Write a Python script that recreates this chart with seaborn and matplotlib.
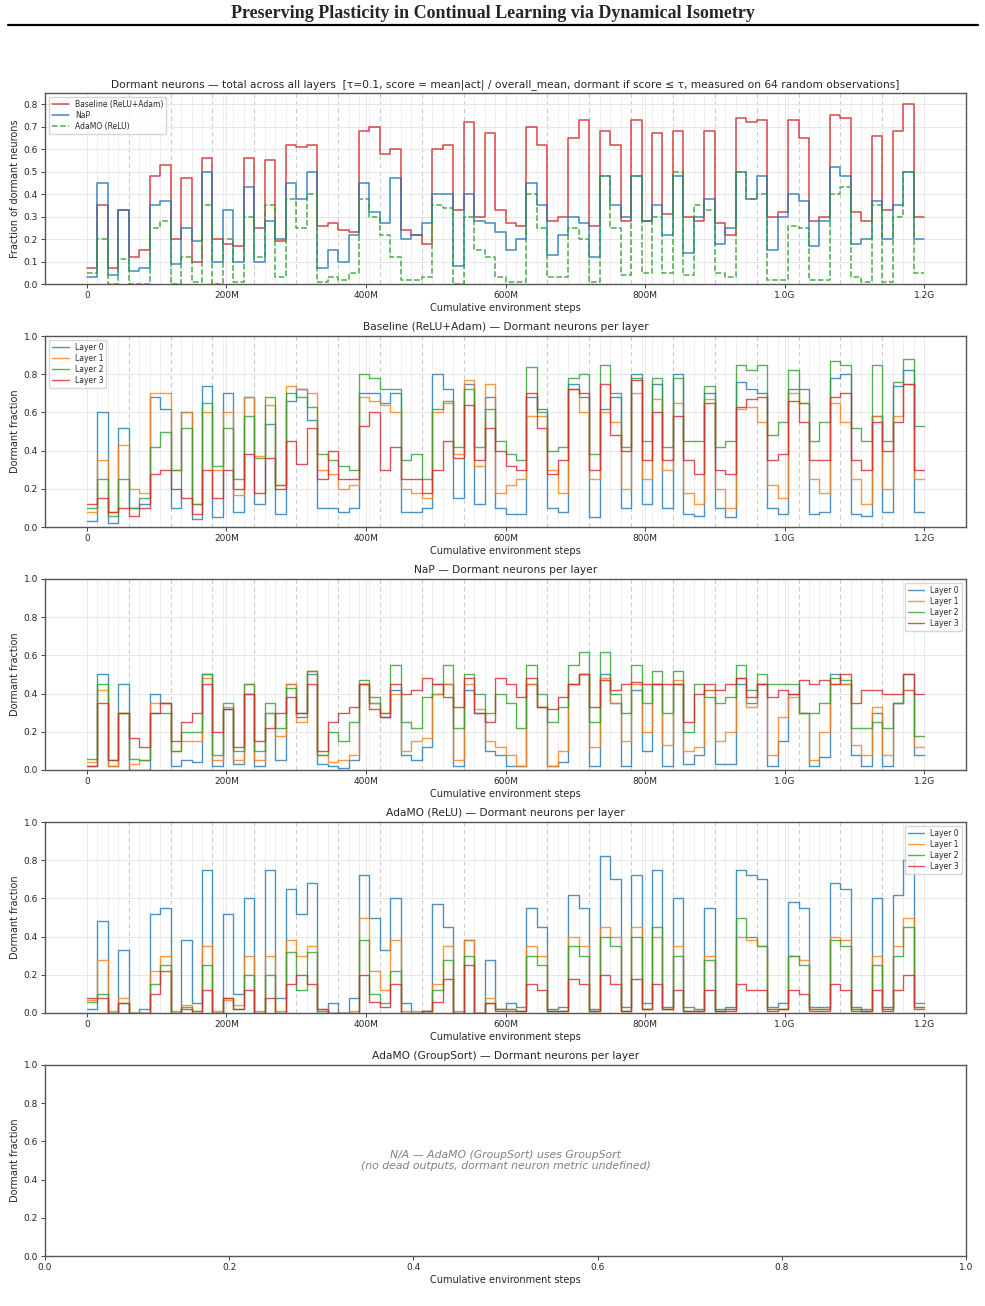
import numpy as np
import pandas as pd
import matplotlib
matplotlib.use("Agg")
import matplotlib.pyplot as plt
from matplotlib.lines import Line2D
from matplotlib.ticker import FixedLocator, FixedFormatter
import seaborn as sns

# ---------------- data (one value per 15M-step task, 80 tasks) ----------------
task_len = 15e6
n_tasks = 80
xtick_vals = [0, 200e6, 400e6, 600e6, 800e6, 1000e6, 1200e6]
xtick_labels = ["0", "200M", "400M", "600M", "800M", "1.0G", "1.2G"]

base_total = [0.07, 0.35, 0.07, 0.33, 0.12, 0.15, 0.48, 0.53, 0.20, 0.47,
              0.10, 0.56, 0.20, 0.18, 0.17, 0.56, 0.25, 0.55, 0.19, 0.62,
              0.61, 0.62, 0.26, 0.27, 0.24, 0.23, 0.68, 0.70, 0.58, 0.60,
              0.24, 0.22, 0.18, 0.60, 0.62, 0.33, 0.72, 0.30, 0.67, 0.33,
              0.27, 0.26, 0.70, 0.62, 0.28, 0.30, 0.65, 0.73, 0.26, 0.68,
              0.62, 0.28, 0.73, 0.28, 0.67, 0.31, 0.68, 0.30, 0.28, 0.68,
              0.27, 0.22, 0.74, 0.72, 0.73, 0.30, 0.32, 0.73, 0.65, 0.28,
              0.30, 0.75, 0.74, 0.32, 0.28, 0.66, 0.33, 0.68, 0.80, 0.30]
nap_total = [0.03, 0.45, 0.04, 0.33, 0.06, 0.07, 0.35, 0.37, 0.09, 0.25,
             0.19, 0.50, 0.10, 0.33, 0.10, 0.43, 0.10, 0.28, 0.20, 0.45,
             0.38, 0.50, 0.07, 0.15, 0.10, 0.22, 0.45, 0.32, 0.27, 0.47,
             0.20, 0.22, 0.27, 0.40, 0.40, 0.08, 0.40, 0.28, 0.27, 0.23,
             0.15, 0.20, 0.45, 0.35, 0.13, 0.22, 0.30, 0.27, 0.12, 0.48,
             0.35, 0.30, 0.48, 0.28, 0.35, 0.22, 0.48, 0.14, 0.30, 0.38,
             0.18, 0.25, 0.50, 0.38, 0.48, 0.15, 0.30, 0.40, 0.37, 0.17,
             0.28, 0.52, 0.48, 0.18, 0.20, 0.37, 0.20, 0.35, 0.50, 0.20]
adamo_total = [0.05, 0.20, 0.00, 0.11, 0.00, 0.00, 0.25, 0.28, 0.00, 0.12,
               0.01, 0.35, 0.00, 0.20, 0.01, 0.30, 0.12, 0.35, 0.03, 0.38,
               0.25, 0.40, 0.01, 0.03, 0.02, 0.05, 0.38, 0.30, 0.22, 0.12,
               0.02, 0.02, 0.03, 0.35, 0.34, 0.00, 0.30, 0.15, 0.12, 0.03,
               0.01, 0.01, 0.40, 0.25, 0.03, 0.03, 0.25, 0.20, 0.01, 0.48,
               0.25, 0.04, 0.48, 0.05, 0.30, 0.05, 0.50, 0.04, 0.35, 0.33,
               0.05, 0.03, 0.50, 0.38, 0.40, 0.02, 0.02, 0.26, 0.25, 0.02,
               0.02, 0.40, 0.43, 0.03, 0.01, 0.35, 0.01, 0.30, 0.50, 0.05]

base_L0 = [0.03, 0.60, 0.02, 0.52, 0.10, 0.12, 0.68, 0.62, 0.10, 0.60,
           0.04, 0.74, 0.05, 0.70, 0.08, 0.68, 0.12, 0.54, 0.07, 0.66,
           0.72, 0.56, 0.10, 0.10, 0.08, 0.10, 0.70, 0.70, 0.65, 0.70,
           0.08, 0.08, 0.10, 0.80, 0.72, 0.15, 0.75, 0.12, 0.68, 0.10,
           0.07, 0.07, 0.68, 0.62, 0.10, 0.08, 0.75, 0.68, 0.05, 0.62,
           0.68, 0.10, 0.80, 0.12, 0.75, 0.10, 0.80, 0.07, 0.06, 0.70,
           0.10, 0.05, 0.76, 0.72, 0.70, 0.10, 0.07, 0.72, 0.72, 0.07,
           0.08, 0.78, 0.80, 0.07, 0.06, 0.58, 0.08, 0.74, 0.82, 0.08]
base_L1 = [0.08, 0.35, 0.08, 0.43, 0.20, 0.18, 0.70, 0.70, 0.30, 0.60,
           0.12, 0.60, 0.30, 0.60, 0.17, 0.68, 0.37, 0.64, 0.22, 0.74,
           0.72, 0.70, 0.30, 0.28, 0.20, 0.22, 0.68, 0.66, 0.64, 0.60,
           0.20, 0.18, 0.15, 0.60, 0.65, 0.38, 0.77, 0.32, 0.75, 0.18,
           0.22, 0.25, 0.58, 0.58, 0.30, 0.18, 0.72, 0.60, 0.25, 0.60,
           0.55, 0.20, 0.70, 0.25, 0.67, 0.30, 0.65, 0.18, 0.12, 0.67,
           0.20, 0.10, 0.62, 0.63, 0.55, 0.22, 0.15, 0.70, 0.65, 0.25,
           0.18, 0.65, 0.55, 0.25, 0.12, 0.58, 0.20, 0.58, 0.75, 0.25]
base_L2 = [0.10, 0.25, 0.06, 0.25, 0.10, 0.15, 0.42, 0.50, 0.30, 0.52,
           0.12, 0.65, 0.32, 0.52, 0.25, 0.58, 0.36, 0.68, 0.22, 0.70,
           0.68, 0.63, 0.38, 0.35, 0.32, 0.30, 0.80, 0.78, 0.72, 0.72,
           0.35, 0.38, 0.25, 0.62, 0.66, 0.42, 0.72, 0.42, 0.62, 0.45,
           0.38, 0.35, 0.84, 0.60, 0.40, 0.42, 0.78, 0.80, 0.38, 0.85,
           0.70, 0.42, 0.78, 0.45, 0.78, 0.42, 0.78, 0.45, 0.45, 0.74,
           0.42, 0.45, 0.85, 0.82, 0.85, 0.48, 0.55, 0.82, 0.65, 0.45,
           0.55, 0.87, 0.85, 0.52, 0.45, 0.85, 0.45, 0.76, 0.88, 0.53]
base_L3 = [0.12, 0.15, 0.08, 0.10, 0.06, 0.10, 0.28, 0.30, 0.20, 0.15,
           0.07, 0.30, 0.15, 0.30, 0.20, 0.38, 0.18, 0.36, 0.20, 0.45,
           0.33, 0.52, 0.25, 0.40, 0.25, 0.25, 0.53, 0.60, 0.30, 0.42,
           0.25, 0.25, 0.18, 0.30, 0.45, 0.36, 0.64, 0.35, 0.52, 0.40,
           0.32, 0.30, 0.70, 0.52, 0.28, 0.35, 0.72, 0.70, 0.30, 0.75,
           0.48, 0.40, 0.77, 0.35, 0.60, 0.35, 0.58, 0.35, 0.28, 0.65,
           0.30, 0.28, 0.63, 0.67, 0.68, 0.35, 0.38, 0.66, 0.55, 0.35,
           0.35, 0.68, 0.70, 0.35, 0.30, 0.55, 0.40, 0.55, 0.75, 0.30]

nap_L0 = [0.02, 0.50, 0.02, 0.45, 0.00, 0.00, 0.40, 0.35, 0.02, 0.05,
          0.04, 0.50, 0.02, 0.32, 0.03, 0.40, 0.02, 0.30, 0.05, 0.45,
          0.28, 0.50, 0.03, 0.02, 0.01, 0.05, 0.45, 0.35, 0.28, 0.42,
          0.08, 0.05, 0.12, 0.40, 0.45, 0.02, 0.42, 0.30, 0.10, 0.08,
          0.02, 0.02, 0.45, 0.33, 0.02, 0.04, 0.45, 0.50, 0.02, 0.50,
          0.35, 0.02, 0.42, 0.10, 0.45, 0.02, 0.45, 0.03, 0.08, 0.42,
          0.03, 0.03, 0.45, 0.35, 0.45, 0.02, 0.15, 0.40, 0.30, 0.02,
          0.07, 0.50, 0.45, 0.08, 0.02, 0.30, 0.02, 0.35, 0.42, 0.08]
nap_L1 = [0.04, 0.42, 0.02, 0.30, 0.03, 0.05, 0.35, 0.35, 0.10, 0.15,
          0.15, 0.48, 0.05, 0.33, 0.05, 0.45, 0.05, 0.30, 0.18, 0.45,
          0.25, 0.52, 0.08, 0.04, 0.05, 0.08, 0.45, 0.35, 0.30, 0.40,
          0.10, 0.15, 0.17, 0.40, 0.45, 0.05, 0.45, 0.32, 0.15, 0.12,
          0.08, 0.02, 0.45, 0.33, 0.02, 0.10, 0.45, 0.50, 0.12, 0.48,
          0.35, 0.15, 0.45, 0.20, 0.45, 0.13, 0.47, 0.10, 0.12, 0.42,
          0.15, 0.20, 0.48, 0.33, 0.45, 0.08, 0.28, 0.38, 0.30, 0.05,
          0.20, 0.45, 0.45, 0.13, 0.08, 0.33, 0.08, 0.35, 0.42, 0.12]
nap_L2 = [0.06, 0.45, 0.05, 0.30, 0.06, 0.05, 0.30, 0.30, 0.10, 0.20,
          0.20, 0.50, 0.08, 0.35, 0.10, 0.45, 0.10, 0.35, 0.22, 0.43,
          0.30, 0.52, 0.08, 0.20, 0.15, 0.25, 0.47, 0.38, 0.30, 0.55,
          0.25, 0.22, 0.38, 0.45, 0.55, 0.22, 0.50, 0.40, 0.30, 0.40,
          0.35, 0.22, 0.55, 0.40, 0.25, 0.33, 0.55, 0.62, 0.25, 0.62,
          0.40, 0.30, 0.55, 0.35, 0.52, 0.30, 0.52, 0.20, 0.45, 0.38,
          0.35, 0.38, 0.55, 0.42, 0.50, 0.45, 0.45, 0.45, 0.30, 0.30,
          0.35, 0.48, 0.47, 0.22, 0.22, 0.25, 0.22, 0.35, 0.50, 0.18]
nap_L3 = [0.02, 0.35, 0.05, 0.30, 0.17, 0.12, 0.30, 0.35, 0.15, 0.25,
          0.30, 0.45, 0.20, 0.32, 0.12, 0.40, 0.15, 0.22, 0.30, 0.38,
          0.30, 0.45, 0.10, 0.25, 0.30, 0.33, 0.45, 0.32, 0.28, 0.45,
          0.40, 0.42, 0.48, 0.45, 0.38, 0.33, 0.48, 0.30, 0.25, 0.48,
          0.45, 0.38, 0.48, 0.33, 0.32, 0.38, 0.45, 0.50, 0.33, 0.47,
          0.42, 0.45, 0.46, 0.45, 0.45, 0.45, 0.45, 0.25, 0.40, 0.45,
          0.42, 0.45, 0.48, 0.38, 0.45, 0.38, 0.42, 0.40, 0.47, 0.45,
          0.47, 0.45, 0.50, 0.35, 0.42, 0.42, 0.40, 0.40, 0.50, 0.40]

ada_L0 = [0.02, 0.48, 0.00, 0.33, 0.00, 0.02, 0.52, 0.55, 0.00, 0.38,
          0.05, 0.75, 0.00, 0.52, 0.10, 0.60, 0.00, 0.75, 0.08, 0.65,
          0.52, 0.68, 0.00, 0.05, 0.00, 0.08, 0.72, 0.50, 0.33, 0.60,
          0.05, 0.00, 0.01, 0.57, 0.45, 0.00, 0.38, 0.00, 0.28, 0.02,
          0.05, 0.03, 0.55, 0.45, 0.02, 0.03, 0.62, 0.55, 0.02, 0.82,
          0.70, 0.03, 0.72, 0.05, 0.75, 0.03, 0.60, 0.03, 0.02, 0.55,
          0.02, 0.03, 0.75, 0.72, 0.70, 0.03, 0.05, 0.58, 0.55, 0.03,
          0.03, 0.68, 0.65, 0.03, 0.02, 0.60, 0.03, 0.62, 0.80, 0.05]
ada_L1 = [0.07, 0.28, 0.01, 0.08, 0.00, 0.00, 0.22, 0.30, 0.01, 0.04,
          0.01, 0.35, 0.01, 0.07, 0.04, 0.30, 0.01, 0.30, 0.01, 0.38,
          0.30, 0.35, 0.02, 0.00, 0.00, 0.01, 0.50, 0.22, 0.12, 0.38,
          0.01, 0.01, 0.00, 0.15, 0.35, 0.01, 0.38, 0.00, 0.08, 0.02,
          0.02, 0.01, 0.35, 0.30, 0.01, 0.01, 0.40, 0.35, 0.01, 0.45,
          0.40, 0.01, 0.45, 0.02, 0.40, 0.02, 0.35, 0.01, 0.01, 0.30,
          0.01, 0.02, 0.40, 0.38, 0.35, 0.02, 0.02, 0.30, 0.28, 0.02,
          0.02, 0.40, 0.38, 0.02, 0.01, 0.30, 0.02, 0.35, 0.50, 0.03]
ada_L2 = [0.06, 0.10, 0.00, 0.05, 0.00, 0.00, 0.15, 0.25, 0.00, 0.03,
          0.01, 0.25, 0.00, 0.08, 0.02, 0.20, 0.00, 0.20, 0.00, 0.32,
          0.12, 0.32, 0.01, 0.00, 0.00, 0.00, 0.38, 0.10, 0.05, 0.22,
          0.00, 0.00, 0.01, 0.12, 0.28, 0.00, 0.30, 0.00, 0.05, 0.02,
          0.02, 0.01, 0.30, 0.25, 0.01, 0.01, 0.35, 0.30, 0.01, 0.40,
          0.35, 0.01, 0.40, 0.02, 0.45, 0.02, 0.30, 0.01, 0.01, 0.28,
          0.01, 0.02, 0.50, 0.40, 0.35, 0.02, 0.02, 0.30, 0.25, 0.02,
          0.02, 0.38, 0.35, 0.02, 0.01, 0.25, 0.02, 0.30, 0.45, 0.03]
ada_L3 = [0.08, 0.08, 0.00, 0.05, 0.00, 0.00, 0.10, 0.22, 0.00, 0.02,
          0.00, 0.12, 0.00, 0.08, 0.02, 0.12, 0.00, 0.08, 0.00, 0.15,
          0.20, 0.15, 0.02, 0.00, 0.00, 0.00, 0.20, 0.06, 0.03, 0.15,
          0.00, 0.00, 0.01, 0.06, 0.18, 0.00, 0.25, 0.00, 0.05, 0.01,
          0.01, 0.01, 0.15, 0.12, 0.01, 0.01, 0.18, 0.15, 0.01, 0.20,
          0.15, 0.01, 0.18, 0.02, 0.15, 0.02, 0.12, 0.01, 0.01, 0.12,
          0.01, 0.01, 0.15, 0.12, 0.12, 0.01, 0.02, 0.12, 0.10, 0.01,
          0.01, 0.15, 0.12, 0.01, 0.01, 0.12, 0.01, 0.12, 0.20, 0.02]

# ---------------- helpers ----------------
task_start = np.arange(n_tasks) * task_len
step_x = np.append(task_start, n_tasks * task_len)


def series_frame(vals):
    v = list(vals) + [vals[-1]]
    return pd.DataFrame({"x": step_x, "y": v})


def task_lines(ax):
    for k in range(0, n_tasks):
        xv = k * task_len
        if k % 4 == 0 and k > 0:
            ax.axvline(xv, color="#cccccc", lw=0.8, ls=(0, (4, 3)), zorder=0.5)
        else:
            ax.axvline(xv, color="#eeeeee", lw=0.7, zorder=0.5)


def style_axes(ax, ylabel, ylim, yticks):
    ax.set_xlim(-60e6, 1260e6)
    ax.set_ylim(*ylim)
    ax.xaxis.set_major_locator(FixedLocator(xtick_vals))
    ax.xaxis.set_major_formatter(FixedFormatter(xtick_labels))
    ax.set_yticks(yticks)
    ax.set_yticklabels([f"{t:.1f}" for t in yticks])
    ax.grid(True, color="#e8e8e8", lw=0.7)
    ax.set_axisbelow(True)
    ax.set_xlabel("Cumulative environment steps", fontsize=7.0, labelpad=2)
    ax.set_ylabel(ylabel, fontsize=7.0, labelpad=3)
    ax.tick_params(labelsize=6.5, length=3, width=0.6, pad=2)


sns.set_theme(style="ticks")
plt.rcParams["font.family"] = ["DejaVu Sans"]
plt.rcParams["axes.edgecolor"] = "#555555"
plt.rcParams["axes.linewidth"] = 1.0

fig = plt.figure(figsize=(9.85, 13.06), dpi=100)
L, W, H = 45 / 985, 921 / 985, 191 / 1306
bottoms = [1 - 284 / 1306, 1 - 527 / 1306, 1 - 770 / 1306, 1 - 1013 / 1306, 1 - 1256 / 1306]
axes = [fig.add_axes([L, b, W, H]) for b in bottoms]

# header
fig.text(0.5, 1 - 14 / 1306, "Preserving Plasticity in Continual Learning via Dynamical Isometry",
         ha="center", va="center", fontsize=13, fontweight="bold", family="Liberation Serif")
fig.add_artist(Line2D([8 / 985, 978 / 985], [1 - 25 / 1306] * 2, color="black", lw=1.6))

# panel 1
ax = axes[0]
task_lines(ax)
for vals, lab, col, ls in [(base_total, "Baseline (ReLU+Adam)", "#d62728", "-"),
                           (nap_total, "NaP", "#1f77b4", "-"),
                           (adamo_total, "AdaMO (ReLU)", "#2ca02c", "--")]:
    sns.lineplot(data=series_frame(vals), x="x", y="y", ax=ax, color=col, lw=1.1,
                 ls=ls, alpha=0.85, drawstyle="steps-post", label=lab, estimator=None)
style_axes(ax, "Fraction of dormant neurons", (0, 0.85), np.round(np.arange(0, 0.81, 0.1), 1))
ax.set_title("Dormant neurons — total across all layers  [τ=0.1, score = mean|act| / overall_mean, "
             "dormant if score ≤ τ, measured on 64 random observations]", fontsize=7.65, pad=4)
ax.legend(loc="upper left", fontsize=5.5, frameon=True, handlelength=2.2, borderpad=0.4,
          labelspacing=0.25)

layer_cols = ["#1f77b4", "#ff7f0e", "#2ca02c", "#d62728"]
per_layer = [("Baseline (ReLU+Adam) — Dormant neurons per layer", [base_L0, base_L1, base_L2, base_L3], "upper left"),
             ("NaP — Dormant neurons per layer", [nap_L0, nap_L1, nap_L2, nap_L3], "upper right"),
             ("AdaMO (ReLU) — Dormant neurons per layer", [ada_L0, ada_L1, ada_L2, ada_L3], "upper right")]
for ax, (title, layers, loc) in zip(axes[1:4], per_layer):
    task_lines(ax)
    for i, vals in enumerate(layers):
        sns.lineplot(data=series_frame(vals), x="x", y="y", ax=ax, color=layer_cols[i], lw=1.0,
                     alpha=0.8, drawstyle="steps-post", label=f"Layer {i}", estimator=None)
    style_axes(ax, "Dormant fraction", (0, 1.0), np.round(np.arange(0, 1.01, 0.2), 1))
    ax.set_title(title, fontsize=7.65, pad=4)
    ax.legend(loc=loc, fontsize=5.5, frameon=True, handlelength=2.2, borderpad=0.4,
              labelspacing=0.25)

# panel 5
ax = axes[4]
ax.set_xlim(0, 1)
ax.set_ylim(0, 1)
ax.set_xticks(np.round(np.arange(0, 1.01, 0.2), 1))
ax.set_yticks(np.round(np.arange(0, 1.01, 0.2), 1))
ax.set_xlabel("Cumulative environment steps", fontsize=7.0, labelpad=2)
ax.set_ylabel("Dormant fraction", fontsize=7.0, labelpad=3)
ax.tick_params(labelsize=6.5, length=3, width=0.6, pad=2)
ax.set_title("AdaMO (GroupSort) — Dormant neurons per layer", fontsize=7.65, pad=4)
ax.text(0.5, 0.5, "N/A — AdaMO (GroupSort) uses GroupSort\n(no dead outputs, dormant neuron metric undefined)",
        transform=ax.transAxes, ha="center", va="center", fontsize=7.8, style="italic", color="gray")

fig.savefig("out.png", dpi=100)
